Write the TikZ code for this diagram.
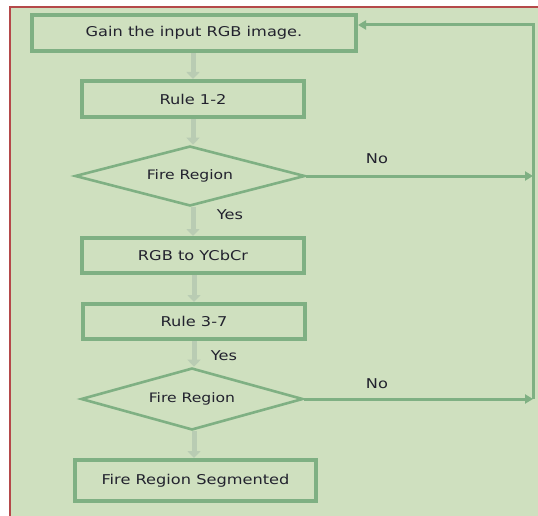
\documentclass[tikz,border=0pt]{standalone}
\usepackage{fontspec}
\setmainfont{DejaVu Sans}[FakeStretch=1.2]
\usetikzlibrary{shapes.geometric,arrows.meta}
\definecolor{bgg}{HTML}{CFE0BF}
\definecolor{frm}{HTML}{B5494A}
\definecolor{lng}{HTML}{7FB083}
\definecolor{blk}{HTML}{B9CCB3}
\definecolor{txt}{HTML}{22222E}
\tikzset{
  procbox/.style={draw=lng, line width=4pt, rectangle, inner sep=0pt, text=txt, font=\fontsize{13.5}{15}\selectfont},
  decbox/.style={draw=lng, line width=2.6pt, diamond, inner sep=0pt, aspect=3.8, text=txt, font=\fontsize{13}{14}\selectfont},
  blockarrow/.style={draw=blk, line width=5pt, -{Triangle[width=13pt,length=7pt]}},
  loopline/.style={draw=lng, line width=3pt},
  looparrow/.style={loopline, -{Triangle[width=9pt,length=8pt]}},
  lbl/.style={text=txt, font=\fontsize{13.5}{15}\selectfont, inner sep=0pt}
}
\begin{document}
\begin{tikzpicture}[x=1pt,y=-1pt]
\useasboundingbox (0,0) rectangle (538,516);
\fill[white] (0,0) rectangle (538,516);
\begin{scope}
\clip (0,0) rectangle (538,516);
\filldraw[fill=bgg, draw=frm, line width=2pt] (10,7) rectangle (560,540);
\end{scope}
\node[procbox, minimum width=324pt, minimum height=36pt] (b1) at (194,33) {Gain the input RGB image.};
\node[procbox, minimum width=222pt, minimum height=36pt] (b2) at (193,99) {Rule 1-2};
\node[decbox, minimum width=230pt, minimum height=60pt] (d1) at (190,176) {Fire Region};
\node[procbox, minimum width=222pt, minimum height=35pt] (b3) at (193,255.5) {RGB to YCbCr};
\node[procbox, minimum width=222pt, minimum height=35pt] (b4) at (194,321.5) {Rule 3-7};
\node[decbox, aspect=3.6, minimum width=222pt, minimum height=62pt] (d2) at (192,399) {Fire Region};
\node[procbox, minimum width=241pt, minimum height=41pt] (b5) at (195.5,480.5) {Fire Region Segmented};
\draw[blockarrow] (b1.south -| 193,0) -- (b2.north -| 193,0);
\draw[blockarrow] (b2.south -| 193,0) -- (d1.north -| 193,0);
\draw[blockarrow] (d1.south -| 193,0) -- (b3.north -| 193,0);
\draw[blockarrow] (b3.south -| 194,0) -- (b4.north -| 194,0);
\draw[blockarrow] (b4.south -| 194,0) -- (d2.north -| 194,0);
\draw[blockarrow] (d2.south -| 194,0) -- (b5.north -| 194,0);
\coordinate (r1) at (533,176);
\coordinate (r2) at (533,399);
\coordinate (tr) at (533,25);
\draw[looparrow] (d1.east) -- (r1);
\draw[looparrow] (d2.east) -- (r2);
\draw[loopline] (r2) -- ([yshift=-1.5pt]tr);
\draw[looparrow] ([xshift=1.5pt]tr) -- (b1.east |- tr);
\node[lbl] (no1) at (377,159) {No};
\node[lbl] (no2) at (377,384) {No};
\node[lbl] (yes1) at (230,215) {Yes};
\node[lbl] (yes2) at (224,356) {Yes};
\end{tikzpicture}
\end{document}
